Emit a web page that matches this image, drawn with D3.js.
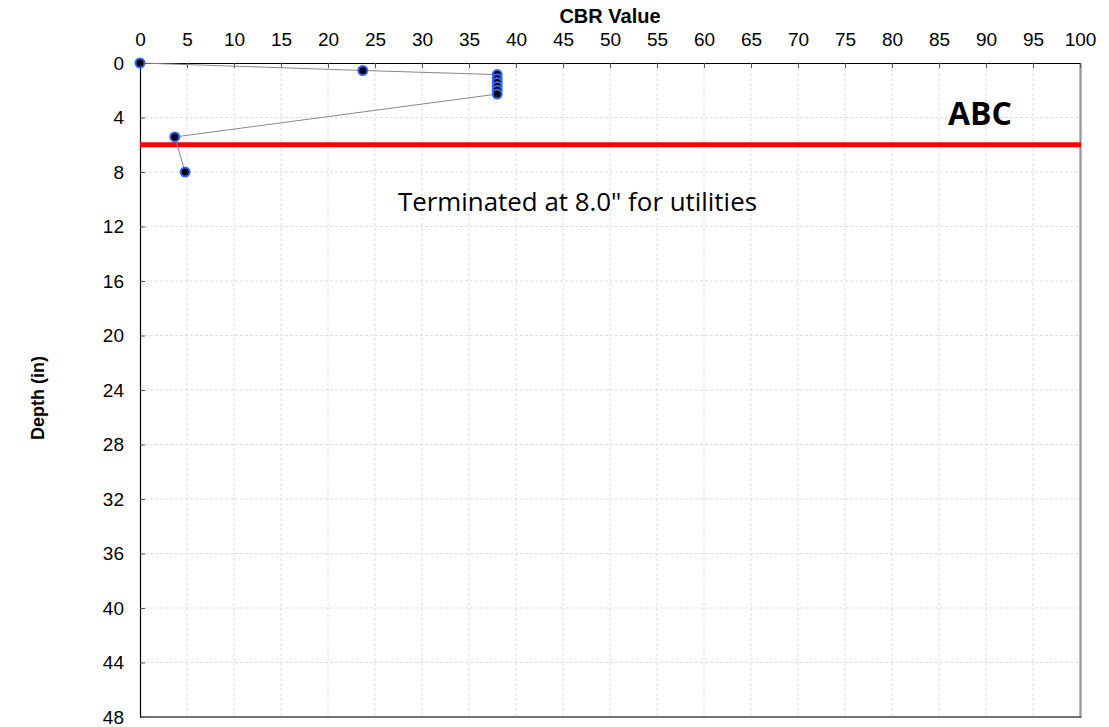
<!DOCTYPE html>
<html>
<head>
<meta charset="utf-8">
<script src="https://cdn.jsdelivr.net/npm/d3@7"></script>
<style>
  body { margin: 0; background: #fff; }
</style>
</head>
<body>
<script>
// CBR test readings (value vs depth)
const cbrValues = [0, 23.7, 38, 38, 38, 38, 38, 38, 3.7, 4.8];
const depths = [0, 0.55, 0.85, 1.15, 1.43, 1.72, 2.0, 2.28, 5.43, 8.0];
const xTicks = d3.range(0, 101, 5);
const yTicks = d3.range(0, 49, 4);
const layerDepth = 6;
const layerName = "ABC";
const note = "Terminated at 8.0\" for utilities";

const width = 1109, height = 727;
const margin = { top: 63, right: 29, bottom: 10, left: 140 };
const arial = "Liberation Sans, Arial, sans-serif";
const calibri = "Open Sans, sans-serif";

const svg = d3.select("body").append("svg")
    .attr("width", width)
    .attr("height", height);

const x = d3.scaleLinear().domain([0, 100]).range([margin.left, width - margin.right]);
const y = d3.scaleLinear().domain([0, 48]).range([margin.top, height - margin.bottom]);

// gridlines
svg.append("g").selectAll("line").data(xTicks.slice(1, -1)).join("line")
    .attr("x1", d => x(d)).attr("x2", d => x(d))
    .attr("y1", y(0)).attr("y2", y(48))
    .attr("stroke", "#ddd").attr("stroke-dasharray", "3,2");
svg.append("g").selectAll("line").data(yTicks.slice(1, -1)).join("line")
    .attr("x1", x(0)).attr("x2", x(100))
    .attr("y1", d => y(d)).attr("y2", d => y(d))
    .attr("stroke", "#ddd").attr("stroke-dasharray", "3,2");

// right / bottom frame
svg.append("line").attr("x1", x(100) + 1).attr("x2", x(100) + 1).attr("y1", y(0)).attr("y2", y(48) + 1)
    .attr("stroke", "#bbb").attr("stroke-width", 2);
svg.append("line").attr("x1", x(100)).attr("x2", x(100)).attr("y1", y(0)).attr("y2", y(48))
    .attr("stroke", "#777");
svg.append("line").attr("x1", x(0)).attr("x2", x(100) + 1).attr("y1", y(48)).attr("y2", y(48))
    .attr("stroke", "#444").attr("stroke-width", 1.5);

// top axis
const xAxis = svg.append("g")
    .attr("transform", `translate(0,${margin.top})`)
    .call(d3.axisTop(x).tickValues(xTicks).tickSizeInner(-5).tickSizeOuter(0).tickPadding(17));
xAxis.select(".domain").attr("stroke", "#000").attr("stroke-width", 1.2);
xAxis.selectAll(".tick line").attr("stroke", "#555");
xAxis.selectAll("text").attr("fill", "#000")
    .style("font-size", "19px").style("font-family", arial);

// left axis
const yAxis = svg.append("g")
    .attr("transform", `translate(${margin.left},0)`)
    .call(d3.axisLeft(y).tickValues(yTicks).tickSizeInner(-5).tickSizeOuter(0).tickPadding(16));
yAxis.select(".domain").attr("stroke", "#000").attr("stroke-width", 1.2);
yAxis.selectAll(".tick line").attr("stroke", "#555");
yAxis.selectAll("text").attr("fill", "#000")
    .style("font-size", "19px").style("font-family", arial);

// axis titles
svg.append("text").attr("x", 610).attr("y", 23)
    .attr("text-anchor", "middle")
    .style("font-size", "20px").style("font-weight", "bold").style("font-family", arial)
    .text("CBR Value");
svg.append("text")
    .attr("transform", "translate(44,398) rotate(-90)")
    .attr("text-anchor", "middle")
    .style("font-size", "18px").style("font-weight", "bold").style("font-family", arial)
    .text("Depth (in)");

// layer boundary
svg.append("line")
    .attr("x1", x(0)).attr("x2", x(100) + 1)
    .attr("y1", y(layerDepth)).attr("y2", y(layerDepth))
    .attr("stroke", "#ff0000").attr("stroke-width", 5);

svg.append("text").attr("x", 980).attr("y", 125)
    .attr("text-anchor", "middle")
    .style("font-size", "32px").style("font-weight", "bold").style("font-family", calibri)
    .text(layerName);

svg.append("text").attr("x", 398).attr("y", 211)
    .attr("textLength", 359).attr("lengthAdjust", "spacingAndGlyphs")
    .style("font-size", "25px").style("font-family", calibri)
    .text(note);

// data line and markers
const pts = cbrValues.map((v, i) => ({ v, d: depths[i] }));
svg.append("path").datum(pts)
    .attr("fill", "none").attr("stroke", "#888").attr("stroke-width", 1)
    .attr("d", d3.line().x(p => x(p.v)).y(p => y(p.d)));

svg.append("g").selectAll("circle").data(pts).join("circle")
    .attr("cx", p => x(p.v)).attr("cy", p => y(p.d))
    .attr("r", 4.5)
    .attr("fill", "#000").attr("stroke", "#3366ff").attr("stroke-width", 2);
</script>
</body>
</html>
